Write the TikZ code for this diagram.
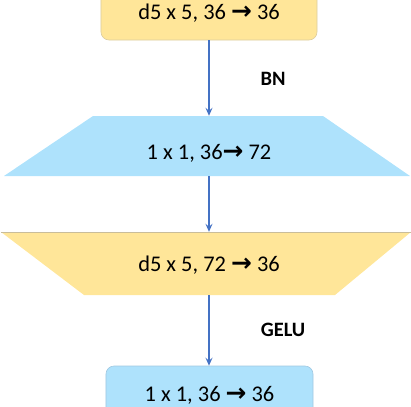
\documentclass[tikz,border=0pt]{standalone}
\usepackage{fontspec}
\setmainfont{Carlito}
\newfontfamily\arrowfont{DejaVu Sans}
\newcommand{\rarr}{{\arrowfont\bfseries\fontsize{25}{26}\selectfont →}}
\usetikzlibrary{arrows.meta}
\definecolor{boxyellow}{RGB}{255,230,153}
\definecolor{boxblue}{RGB}{174,226,252}
\definecolor{edgeyellow}{RGB}{220,205,160}
\definecolor{edgeblue}{RGB}{160,200,225}
\definecolor{arrowblue}{RGB}{68,114,196}
\tikzset{
  rbox/.style={rounded corners=8bp, line width=0.6bp, inner sep=0pt, font=\fontsize{22.5}{26}\selectfont},
  trap/.style={draw=none, inner sep=0pt, font=\fontsize{22.5}{26}\selectfont},
  conn/.style={draw=arrowblue, line width=1.5bp, -{Stealth[length=8bp,width=7bp,inset=3bp]}},
  lbl/.style={font=\fontsize{20.5}{24}\selectfont\bfseries, inner sep=0pt}
}
\begin{document}
\begin{tikzpicture}[x=1bp,y=-1bp]
\useasboundingbox (0,0) rectangle (411,407);
% top box
\node[rbox, fill=boxyellow, draw=edgeyellow, minimum width=216bp, minimum height=54bp] (b1) at (209,13) {d5 x 5, 36 \rarr{} 36};
% trapezoid 1
\fill[boxblue] (93,116) -- (323,116) -- (410,176) -- (4,176) -- cycle;
\node[trap, minimum width=230bp, minimum height=60bp] (t1) at (208,146) {};
\node[inner sep=0pt, font=\fontsize{22.5}{26}\selectfont] (t1text) at (209,153) {1 x 1, 36\rarr{} 72};
% trapezoid 2
\fill[boxyellow] (1,232) -- (411,232) -- (335,295) -- (84,295) -- cycle;
\draw[edgeyellow!80!gray, line width=0.5bp] (1,232) -- (411,232);
\node[trap, minimum width=251bp, minimum height=63bp] (t2) at (209,263.5) {};
\node[inner sep=0pt, font=\fontsize{22.5}{26}\selectfont] (t2text) at (209,265.5) {d5 x 5, 72 \rarr{} 36};
% bottom box
\node[rbox, fill=boxblue, draw=edgeblue, minimum width=207bp, minimum height=58bp] (b2) at (209.5,395) {1 x 1, 36 \rarr{} 36};
% connectors
\draw[conn] (b1.south -| 209,0) -- (t1.north -| 209,0);
\draw[conn] (t1.south -| 209,0) -- (t2.north -| 209,0);
\draw[conn] (t2.south -| 209,0) -- (b2.north -| 209,0);
% labels
\node[lbl] (bn) at (273,79) {BN};
\node[lbl] (gelu) at (283,330) {GELU};
\end{tikzpicture}
\end{document}
